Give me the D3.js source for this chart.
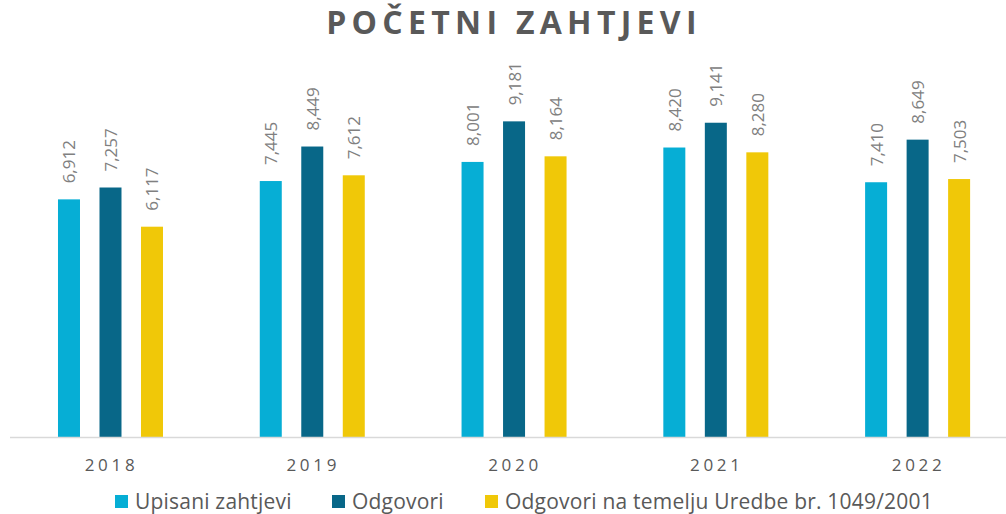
<!DOCTYPE html>
<html>
<head>
<meta charset="utf-8">
<script src="https://cdn.jsdelivr.net/npm/d3@7"></script>
<style>
  body { margin: 0; background: #fff; }
  svg text { font-family: "Open Sans", "Noto Sans", sans-serif; }
</style>
</head>
<body>
<svg id="chart" width="1006" height="514"></svg>
<script>
var years = ["2018", "2019", "2020", "2021", "2022"];
var seriesNames = ["Upisani zahtjevi", "Odgovori", "Odgovori na temelju Uredbe br. 1049/2001"];
var upisani = [6912, 7445, 8001, 8420, 7410];
var odgovori = [7257, 8449, 9181, 9141, 8649];
var uredba = [6117, 7612, 8164, 8280, 7503];
var colors = ["#06aed5", "#086788", "#f0c808"];

var svg = d3.select("#chart");
var all = [upisani, odgovori, uredba];
var baseY = 437;

var x0 = d3.scaleBand().domain(years).range([9.6, 1018.5]);
var x1 = d3.scaleBand().domain([0, 1, 2]).range([49, 154]).paddingInner(0.47);
var y = d3.scaleLinear().domain([0, 10000]).range([baseY, 93.2]);
var fmt = d3.format(",");

// title
svg.append("text").attr("x", 514).attr("y", 34)
	.attr("text-anchor", "middle")
	.style("font-size", "32px").style("font-weight", "bold")
	.style("letter-spacing", "5.3px").attr("fill", "#595959")
	.text("POČETNI ZAHTJEVI");

var groups = svg.selectAll("g.year").data(years).enter().append("g")
	.attr("class", "year")
	.attr("transform", function(d) { return "translate(" + (x0(d) + x0.bandwidth() / 2 - 101.5) + ",0)"; });

groups.each(function(yr, i) {
	var g = d3.select(this);
	all.forEach(function(s, k) {
		var v = s[i];
		g.append("rect").attr("x", x1(k)).attr("width", x1.bandwidth())
			.attr("y", y(v)).attr("height", baseY - y(v))
			.attr("fill", colors[k]);
		var cx = x1(k) + x1.bandwidth() / 2;
		g.append("text")
			.attr("transform", "translate(" + cx + "," + (y(v) - 16) + ") rotate(-90)")
			.attr("dominant-baseline", "central")
			.style("font-size", "17px").attr("fill", "#808080")
			.text(fmt(v));
	});
});

// axis line
svg.append("line").attr("x1", 10).attr("x2", 1006).attr("y1", baseY + 0.5).attr("y2", baseY + 0.5)
	.attr("stroke", "#d9d9d9").attr("stroke-width", 1.5);

// year labels
svg.selectAll("text.yl").data(years).enter().append("text").attr("class", "yl")
	.attr("x", function(d) { return x0(d) + x0.bandwidth() / 2 + 1; })
	.attr("y", 471)
	.attr("text-anchor", "middle")
	.style("font-size", "17px").style("letter-spacing", "3.7px")
	.attr("fill", "#595959")
	.text(function(d) { return d; });

// legend
var legX = [115, 332, 485];
var leg = svg.selectAll("g.leg").data(seriesNames).enter().append("g").attr("class", "leg")
	.attr("transform", function(d, i) { return "translate(" + legX[i] + ",495)"; });
leg.append("rect").attr("width", 13).attr("height", 13).attr("fill", function(d, i) { return colors[i]; });
leg.append("text").attr("x", 20).attr("y", 13.5)
	.style("font-size", "21px").style("letter-spacing", "0.2px").attr("fill", "#595959")
	.text(function(d) { return d; });
</script>
</body>
</html>
